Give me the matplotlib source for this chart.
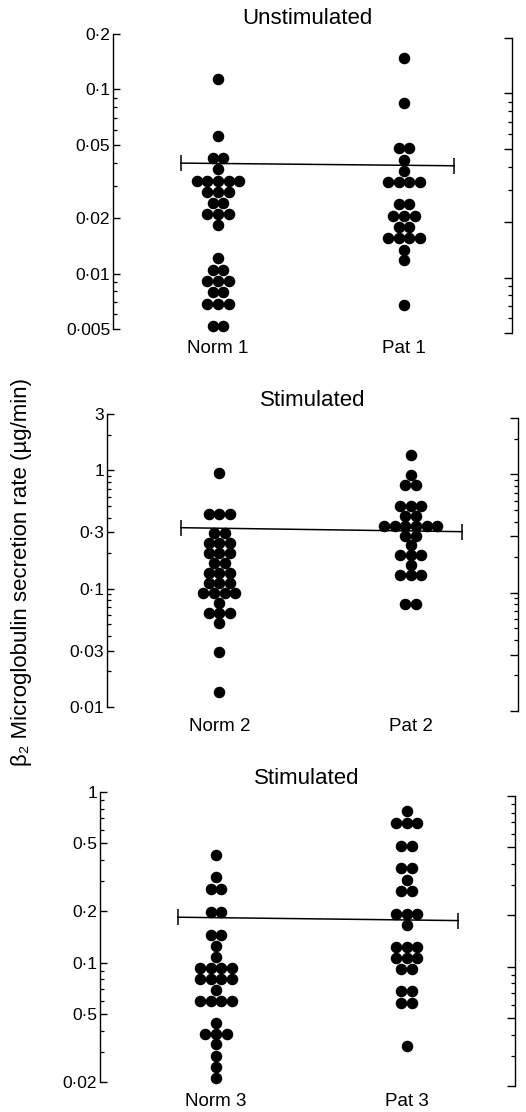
import matplotlib
matplotlib.use("Agg")
import matplotlib.pyplot as plt
import numpy as np
from matplotlib.ticker import FixedLocator, FixedFormatter, LogLocator, NullFormatter

plt.rcParams['font.family'] = ['Liberation Sans', 'DejaVu Sans']

# --- data (values repeated once per dot) ---
norm1 = [0.114, 0.056, 0.0424, 0.0424, 0.0369,
         0.0319, 0.0319, 0.0319, 0.0319, 0.0319,
         0.0278, 0.0278, 0.0278, 0.0242, 0.0242,
         0.0211, 0.0211, 0.0211, 0.0183, 0.01208,
         0.01052, 0.01052, 0.00908, 0.00908, 0.00908,
         0.00791, 0.00791, 0.00686, 0.00686, 0.00686,
         0.0052, 0.0052]
pat1 = [0.148, 0.0839, 0.0479, 0.0479, 0.0415, 0.0361,
        0.0314, 0.0314, 0.0314, 0.0314, 0.0238, 0.0238,
        0.0206, 0.0206, 0.0206, 0.0179, 0.0179,
        0.0156, 0.0156, 0.0156, 0.0156, 0.0135, 0.0118, 0.00671]
mean1 = [0.0398, 0.0385]

norm2 = [0.947, 0.431, 0.431, 0.431, 0.296, 0.296,
         0.2436, 0.2436, 0.2436, 0.2005, 0.2005, 0.2005,
         0.165, 0.165, 0.1358, 0.1358, 0.1358,
         0.1117, 0.1117, 0.1117, 0.0925, 0.0925, 0.0925, 0.0925,
         0.0757, 0.0623, 0.0623, 0.0623, 0.0513, 0.029, 0.01345]
pat2 = [1.352, 0.916, 0.754, 0.754, 0.504, 0.504, 0.504,
        0.415, 0.415, 0.337, 0.337, 0.337, 0.337, 0.337, 0.337,
        0.281, 0.281, 0.234, 0.193, 0.193, 0.193, 0.159,
        0.1306, 0.1306, 0.1306, 0.0742, 0.0742]
mean2 = [0.328, 0.3035]

norm3 = [0.4266, 0.3174, 0.27, 0.27, 0.199, 0.199, 0.1462, 0.1462,
         0.1256, 0.1084, 0.0931, 0.0931, 0.0931, 0.0931,
         0.0807, 0.0807, 0.0807, 0.0807, 0.0696,
         0.0598, 0.0598, 0.0598, 0.0598, 0.0445,
         0.0384, 0.0384, 0.0384, 0.0332, 0.02856, 0.02453, 0.02117]
pat3 = [0.77, 0.661, 0.661, 0.661, 0.483, 0.483, 0.357, 0.357, 0.306,
        0.263, 0.263, 0.194, 0.194, 0.194, 0.1666,
        0.1228, 0.1228, 0.1228, 0.1065, 0.1065, 0.1065,
        0.0914, 0.0914, 0.068, 0.068, 0.0584, 0.0584, 0.0324]
mean3 = [0.1847, 0.1765]

titles = ["Unstimulated", "Stimulated", "Stimulated"]
groups = [["Norm 1", "Pat 1"], ["Norm 2", "Pat 2"], ["Norm 3", "Pat 3"]]
yticks = [[0.005, 0.01, 0.02, 0.05, 0.1, 0.2],
          [0.01, 0.03, 0.1, 0.3, 1, 3],
          [0.02, 0.05, 0.1, 0.2, 0.5, 1]]
ylabels = [["0·005", "0·01", "0·02", "0·05", "0·1", "0·2"],
           ["0·01", "0·03", "0·1", "0·3", "1", "3"],
           ["0·02", "0·5", "0·1", "0·2", "0·5", "1"]]
ylims = [(0.005, 0.2), (0.01, 3), (0.02, 1)]
line_x = [0.8, 2.27]

# layout in pixels: left axis, right bracket, top, bottom, x-limits, title pos
W, H = 526, 1112
layout = [(113, 512, 34, 329, 0.435, 2.581, 307, 18),
          (107, 518, 414, 707, 0.413, 2.561, 313, 400),
          (100, 515, 792, 1082, 0.392, 2.568, 307, 779)]

fig = plt.figure(figsize=(W / 100, H / 100), dpi=100)

def box(l, r, t, b):
    return [l / W, 1 - b / H, (r - l) / W, (b - t) / H]

def rows(vals):
    # group identical values into one horizontal row of dots
    out = {}
    for v in vals:
        out[v] = out.get(v, 0) + 1
    return out

data = [(norm1, pat1, mean1), (norm2, pat2, mean2), (norm3, pat3, mean3)]

for k in range(3):
    l, r, t, b, x0, x1, tx, ty = layout[k]
    ax = fig.add_axes(box(l, r, t, b))
    ax.set_yscale('log')
    ax.set_ylim(*ylims[k])
    ax.set_xlim(x0, x1)
    for s in ['top', 'right', 'bottom']:
        ax.spines[s].set_visible(False)
    ax.spines['left'].set_linewidth(1.0)
    ax.yaxis.set_major_locator(FixedLocator(yticks[k]))
    ax.yaxis.set_major_formatter(FixedFormatter(ylabels[k]))
    ax.yaxis.set_minor_locator(LogLocator(base=10, subs=np.arange(2, 10), numticks=50))
    ax.yaxis.set_minor_formatter(NullFormatter())
    ax.tick_params(axis='y', which='major', direction='in', length=5, width=1, pad=2, labelsize=12.5)
    ax.tick_params(axis='y', which='minor', direction='in', length=3, width=0.9)
    ax.set_xticks([1, 2])
    ax.set_xticklabels(groups[k])
    ax.tick_params(axis='x', length=0, pad=8, labelsize=13.5)

    dx = 10.7 * (x1 - x0) / (r - l)
    norm, pat, mean = data[k]
    for xc, vals in [(1, norm), (2, pat)]:
        for v, n in rows(vals).items():
            xs = xc + (np.arange(n) - (n - 1) / 2) * dx
            ax.plot(xs, [v] * n, 'o', color='black', ms=7.3, mec='black', zorder=3, clip_on=False)
    ax.plot(line_x, mean, color='black', lw=1.1, marker='|', ms=11, mew=1.1, zorder=2)

    fig.text(tx / W, 1 - ty / H, titles[k], ha='center', va='center', fontsize=16)

    # separate bracket on the right
    axr = fig.add_axes(box(l, r, t + 4, b + 4))
    axr.patch.set_visible(False)
    axr.set_yscale('log')
    axr.set_ylim(*ylims[k])
    axr.set_xlim(x0, x1)
    for s in ['top', 'left', 'bottom']:
        axr.spines[s].set_visible(False)
    axr.spines['right'].set_linewidth(1.0)
    axr.set_xticks([])
    axr.yaxis.tick_right()
    axr.yaxis.set_major_locator(FixedLocator(yticks[k]))
    axr.yaxis.set_minor_locator(LogLocator(base=10, subs=np.arange(2, 10), numticks=50))
    axr.yaxis.set_major_formatter(NullFormatter())
    axr.yaxis.set_minor_formatter(NullFormatter())
    axr.tick_params(axis='y', which='major', direction='in', length=6, width=1)
    axr.tick_params(axis='y', which='minor', direction='in', length=3, width=0.9)

fig.text(22 / W, 1 - 572 / H, "β₂ Microglobulin secretion rate (µg/min)",
         rotation=90, ha='center', va='center', fontsize=16)

fig.savefig("out.png", dpi=100)
